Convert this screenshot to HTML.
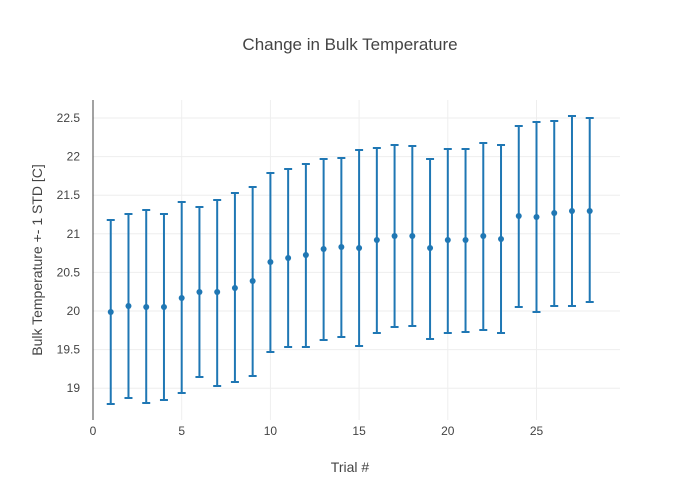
<!DOCTYPE html>
<html><head><meta charset="utf-8"><style>
body{margin:0;background:#fff;}
svg{display:block;font-family:"Liberation Sans",sans-serif;}
</style></head><body>
<svg id="s" width="700" height="500" viewBox="0 0 700 500">
<rect width="700" height="500" fill="#fff"/>
<text x="350" y="50" text-anchor="middle" font-size="17" fill="#444">Change in Bulk Temperature</text>
<text x="350" y="472" text-anchor="middle" font-size="14" fill="#444">Trial #</text>
<text transform="translate(42,260) rotate(-90)" text-anchor="middle" font-size="14" fill="#444">Bulk Temperature +- 1 STD [C]</text>
<g id="g"></g>
</svg>
<script>
var g=document.getElementById('g'),h='';
function X(i){return 93+i*17.74;}
function Y(v){return 311-(v-20)*77.2;}
[19,19.5,20,20.5,21,21.5,22,22.5].forEach(function(v){var y=Y(v);
h+='<line x1="93" x2="620" y1="'+y+'" y2="'+y+'" stroke="#eee"/>';
h+='<text x="80" y="'+(y+4)+'" text-anchor="end" font-size="12" fill="#444">'+v+'</text>';});
[5,10,15,20,25].forEach(function(i){var x=X(i);
h+='<line x1="'+x+'" x2="'+x+'" y1="100" y2="420" stroke="#eee"/>';});
[0,5,10,15,20,25].forEach(function(i){h+='<text x="'+X(i)+'" y="435" text-anchor="middle" font-size="12" fill="#444">'+i+'</text>';});
h+='<line x1="93" x2="93" y1="100" y2="420" stroke="#444" stroke-width="1"/>';
var p=[312,306,307,307,298,292,292,288,281,262,258,255,249,247,248,240,236,236,248,240,240,236,239,216,217,213,211,211];
var u=[220,214,210,214,202,207,200,193,187,173,169,164,159,158,150,148,145,146,159,149,149,143,145,126,122,121,116,118];
var l=[404,398,403,400,393,377,386,382,376,352,347,347,340,337,346,333,327,326,339,333,332,330,333,307,312,306,306,302];
for(var k=0;k<28;k++){var x=X(k+1);
h+='<line x1="'+x+'" x2="'+x+'" y1="'+u[k]+'" y2="'+l[k]+'" stroke="#1f77b4" stroke-width="2"/>';
h+='<line x1="'+(x-4)+'" x2="'+(x+4)+'" y1="'+u[k]+'" y2="'+u[k]+'" stroke="#1f77b4" stroke-width="2"/>';
h+='<line x1="'+(x-4)+'" x2="'+(x+4)+'" y1="'+l[k]+'" y2="'+l[k]+'" stroke="#1f77b4" stroke-width="2"/>';
h+='<circle cx="'+x+'" cy="'+p[k]+'" r="3" fill="#1f77b4"/>';}
g.innerHTML=h;
</script>
</body></html>
